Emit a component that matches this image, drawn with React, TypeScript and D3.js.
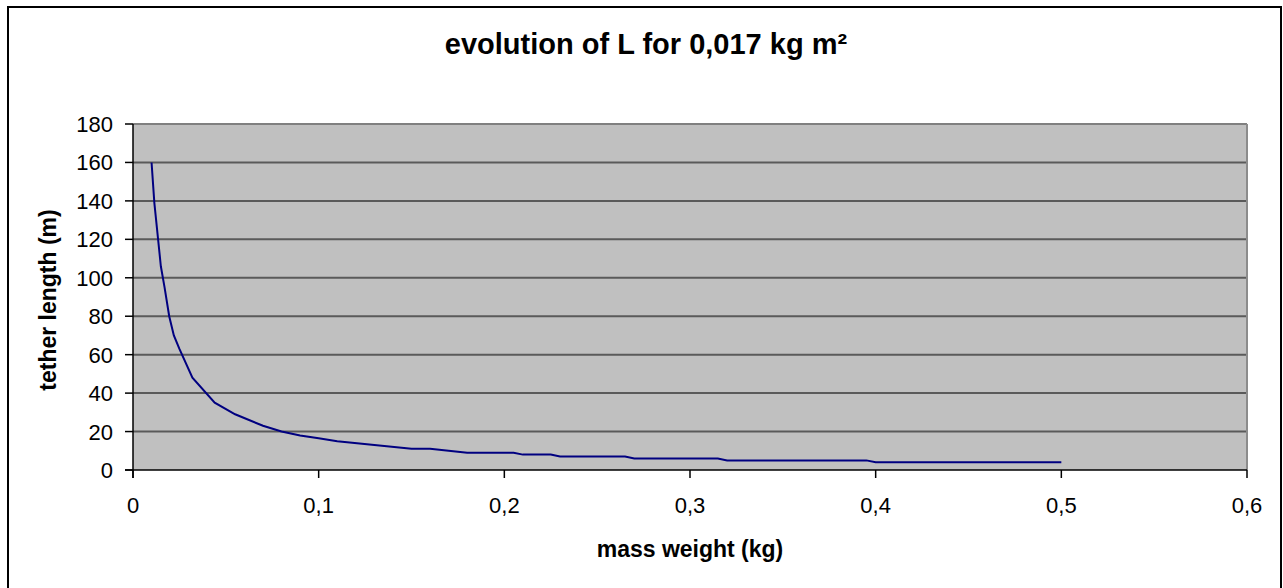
import * as d3 from "d3";

// mass weight (kg) vs tether length (m)
const massKg = [
  0.01, 0.0115, 0.015, 0.017, 0.0195, 0.022, 0.025, 0.032, 0.044, 0.055, 0.07, 0.08, 0.09, 0.1,
  0.11, 0.13, 0.15, 0.16, 0.18, 0.205, 0.21, 0.225, 0.23, 0.265, 0.27, 0.315, 0.32, 0.395, 0.4,
  0.5,
];
const tetherM = [
  160, 139, 106, 95, 80, 70, 63, 48, 35, 29, 23, 20, 18, 16.5, 15, 13, 11, 11, 9, 9, 8, 8, 7, 7,
  6, 6, 5, 5, 4, 4,
];
const xTicks = [0, 0.1, 0.2, 0.3, 0.4, 0.5, 0.6];
const yTicks = [0, 20, 40, 60, 80, 100, 120, 140, 160, 180];

const font = "'Liberation Sans', Arial, sans-serif";

export default function App() {
  const width = 1283;
  const height = 588;
  const left = 133;
  const right = 1247;
  const top = 124;
  const bottom = 470;

  const x = d3.scaleLinear().domain([0, 0.6]).range([left, right]);
  const y = d3.scaleLinear().domain([0, 180]).range([bottom, top]);
  const fmt = (v: number) => String(v).replace(".", ",");

  const points = massKg.map((m, i) => [x(m), y(tetherM[i])] as [number, number]);
  const path = d3.line()(points) ?? "";

  return (
    <svg
      width={width}
      height={height}
      style={{ position: "absolute", left: 0, top: 0 }}
      fontFamily={font}
    >
      <rect x={0} y={0} width={width} height={height} fill="#fff" />
      <path d={`M8,${height + 5} V7 H1281 V${height + 5}`} fill="none" stroke="#000" strokeWidth={2} />

      <text x={646} y={54} textAnchor="middle" fontSize={29} fontWeight="bold">
        evolution of L for 0,017 kg m²
      </text>

      <rect x={left} y={top} width={right - left} height={bottom - top} fill="#c0c0c0" />
      {yTicks.slice(1, -1).map((t) => (
        <line key={t} x1={left} x2={right} y1={y(t)} y2={y(t)} stroke="#5a5a5a" strokeWidth={2} />
      ))}
      <line x1={left} x2={right} y1={top} y2={top} stroke="#808080" strokeWidth={2} />
      <line x1={right} x2={right} y1={top} y2={bottom} stroke="#8c8c8c" strokeWidth={2} />

      <line x1={left} x2={left} y1={top} y2={bottom + 8} stroke="#000" strokeWidth={1.5} />
      <line x1={left - 8} x2={right} y1={bottom} y2={bottom} stroke="#000" strokeWidth={1.5} />
      {yTicks.map((t) => (
        <g key={t}>
          <line x1={left - 8} x2={left} y1={y(t)} y2={y(t)} stroke="#000" strokeWidth={1.5} />
          <text x={113} y={y(t) + 8} textAnchor="end" fontSize={22}>
            {t}
          </text>
        </g>
      ))}
      {xTicks.map((t) => (
        <g key={t}>
          <line x1={x(t)} x2={x(t)} y1={bottom} y2={bottom + 8} stroke="#000" strokeWidth={1.5} />
          <text x={x(t)} y={513} textAnchor="middle" fontSize={22}>
            {fmt(t)}
          </text>
        </g>
      ))}

      <path d={path} fill="none" stroke="#000080" strokeWidth={2} />

      <text x={(left + right) / 2} y={557} textAnchor="middle" fontSize={23} fontWeight="bold">
        mass weight (kg)
      </text>
      <text
        transform={`translate(56, ${(top + bottom) / 2 + 3}) rotate(-90)`}
        textAnchor="middle"
        fontSize={23}
        fontWeight="bold"
      >
        tether length (m)
      </text>
    </svg>
  );
}
